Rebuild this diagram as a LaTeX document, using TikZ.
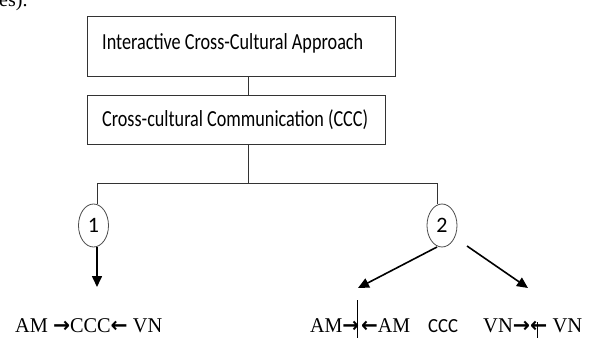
\documentclass[tikz,border=0pt]{standalone}
\usepackage{fontspec}
\setmainfont{Liberation Serif}
\newfontfamily\calfont{Carlito}
\newfontfamily\dvfont{DejaVu Sans}
\usetikzlibrary{shapes.geometric,arrows.meta}
\newcommand\fitw[2]{\resizebox{#1}{\height}{#2}}
\newcommand\rar{{\dvfont\bfseries →}}
\newcommand\lar{{\dvfont\bfseries ←}}
\begin{document}
\begin{tikzpicture}[x=1pt,y=-1pt,
  boxst/.style={draw=black!80, line width=0.9pt, anchor=north west, inner sep=0pt},
  lbl/.style={anchor=base west, inner sep=0pt},
  circst/.style={draw=black!70, line width=0.8pt, ellipse, minimum width=30pt, minimum height=43pt, inner sep=0pt, font=\calfont\fontsize{22}{22}\selectfont},
  conn/.style={draw=black!80, line width=0.9pt},
  arr/.style={draw=black, line width=1.6pt, -{Triangle[length=11pt,width=10pt]}}]
\useasboundingbox (0,0) rectangle (592,338);
% cropped text at top left
\node[lbl] (frag) at (-1,6) {\fontsize{20}{20}\selectfont es).};
% boxes
\node[boxst, minimum width=308pt, minimum height=60pt] (b1) at (87,16) {};
\node[boxst, minimum width=298pt, minimum height=49pt] (b2) at (87,95) {};
\node[lbl] (t1) at (102,49) {\fitw{261pt}{\calfont\fontsize{23}{23}\selectfont Interactive Cross-Cultural Approach}};
\node[lbl] (t2) at (102,126) {\fitw{266pt}{\calfont\fontsize{23}{23}\selectfont Cross-cultural Communication (CCC)}};
% ellipses
\node[circst] (e1) at (93.5,225.5) {1};
\node[circst] (e2) at (442,225.5) {2};
% tree connectors
\coordinate (v1) at (248,76);
\coordinate (v2) at (248,95);
\coordinate (vm) at (248,183);
\coordinate (hl) at (97,183);
\coordinate (hr) at (437,183);
\draw[conn] (v1) -- (v2);
\draw[conn] (v2 |- b2.south) -- (vm);
\draw[conn] (hl |- e1.north) -- (hl) -- (hr) -- (hr |- e2.north);
% arrows
\coordinate (a1s) at (97,247);
\coordinate (a1e) at (97,287);
\coordinate (a2s) at (437,247);
\coordinate (a2e) at (358,288);
\coordinate (a3s) at (467,246);
\coordinate (a3e) at (528,288);
\draw[arr] (a1s) -- (a1e);
\draw[arr] (a2s) -- (a2e);
\draw[arr] (a3s) -- (a3e);
% bottom texts
\node[lbl] (x1) at (15,332) {\fitw{147pt}{\fontsize{21}{21}\selectfont AM \rar CCC\lar{} VN}};
\node[lbl] (x2) at (310,332) {\fitw{100pt}{\fontsize{21}{21}\selectfont AM\rar\hspace{2pt}\lar AM}};
\node[lbl] (x3) at (428,332) {\fitw{30pt}{\calfont\fontsize{20}{20}\selectfont CCC}};
\node[lbl] (x4) at (483,332) {\fitw{99pt}{\fontsize{21}{21}\selectfont VN\rar\lar{} VN}};
\coordinate (bar1t) at (357,300);
\coordinate (bar1b) at (357,338);
\coordinate (bar2t) at (537,322);
\coordinate (bar2b) at (537,338);
\draw[black, line width=0.8pt] (bar1t) -- (bar1b);
\draw[black, line width=0.8pt] (bar2t) -- (bar2b);
\end{tikzpicture}
\end{document}
